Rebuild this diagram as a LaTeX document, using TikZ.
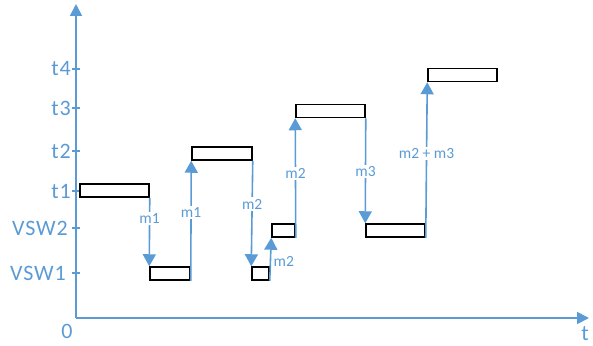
\documentclass[tikz,border=0pt]{standalone}
\usepackage{fontspec}
\setmainfont{Carlito}
\newfontfamily\axisfont[LetterSpace=4]{Carlito}
\usetikzlibrary{arrows.meta}
\definecolor{axisblue}{RGB}{91,155,213}

\begin{document}
\begin{tikzpicture}[x=1pt,y=-1pt,
  axis/.style={draw=axisblue, line width=1.8pt},
  axisarrow/.style={axis, -{Triangle[width=12pt,length=12pt]}},
  flow/.style={draw=axisblue, line width=1.6pt, -{Triangle[width=13pt,length=12pt]}},
  slot/.style={draw=black, line width=1.5pt, fill=white, inner sep=0, minimum height=13pt},
  ticklabel/.style={text=axisblue, font=\axisfont\fontsize{22}{22}\selectfont, anchor=east, inner sep=0},
  mlabel/.style={text=axisblue, font=\fontsize{15.5}{15.5}\selectfont, fill=white, inner sep=1.5pt},
]
\useasboundingbox (0,0) rectangle (593,345);

% axes
\coordinate (o) at (76,318);
\coordinate (ytop) at (76,4);
\coordinate (xend) at (589,318);
\draw[axisarrow] (o) -- (ytop);
\draw[axisarrow] (o) -- (xend);
\node[text=axisblue, font=\fontsize{22}{22}\selectfont] (zero) at (67,331) {0};
\node[text=axisblue, font=\fontsize{22}{22}\selectfont, inner sep=0.5pt] (tlab) at (585,334) {t};

% ticks and level names
\foreach \y/\lab/\xr/\nm in {69/t4/71/lt4, 108/t3/71/lt3, 151/t2/71/lt2, 191/t1/71/lt1, 228/VSW2/68/lv2, 273/VSW1/66/lv1}{
  \coordinate (\nm a) at (72,\y);
  \coordinate (\nm b) at (80,\y);
  \draw[axisblue, line width=1.6pt] (\nm a) -- (\nm b);
  \node[ticklabel] (\nm) at (\xr,\y) {\lab};
}

% time slots
\node[slot, minimum width=69pt] (b1) at (114.5,190.5) {};
\node[slot, minimum width=40pt] (b2) at (170,273.5) {};
\node[slot, minimum width=60pt] (b3) at (222,153.5) {};
\node[slot, minimum width=17pt] (b4) at (260.5,273.5) {};
\node[slot, minimum width=23pt] (b5) at (283.5,230.5) {};
\node[slot, minimum width=69pt] (b6) at (330.5,111) {};
\node[slot, minimum width=59pt] (b7) at (395.5,230.5) {};
\node[slot, minimum width=69pt] (b8) at (462.5,75) {};

% transitions
\draw[flow] (b1.south east) -- (b2.north west) node[mlabel, pos=0.3] {m1};
\draw[flow] (b2.south east) -- (b3.south west) node[mlabel, pos=0.57] {m1};
\draw[flow] (b3.south east) -- (b4.north west) node[mlabel, pos=0.41] {m2};
\draw[flow] (b4.south east) -- (b5.south west) node[mlabel, pos=0.45, right, fill=none, xshift=1pt] {m2};
\draw[flow] (b5.south east) -- (b6.south west) node[mlabel, pos=0.54] {m2};
\draw[flow] (b6.south east) -- (b7.north west) node[mlabel, pos=0.51] {m3};
\draw[flow] (b7.south east) -- (b8.south west) node[mlabel, pos=0.54] {m2 + m3};
\end{tikzpicture}
\end{document}
